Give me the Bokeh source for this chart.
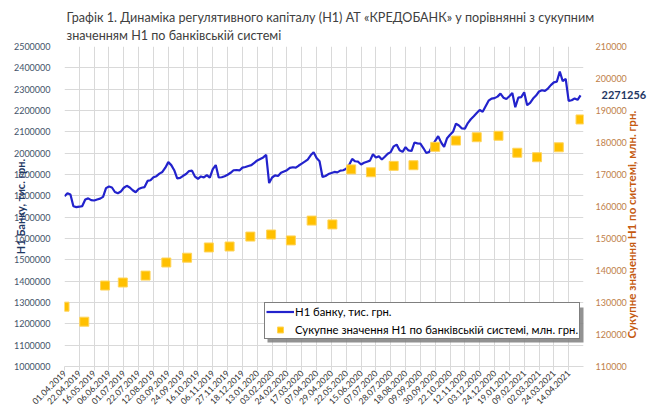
import numpy as np
from math import pi
from bokeh.plotting import figure
from bokeh.models import (Range1d, LinearAxis, FixedTicker, Legend, LegendItem,
                          NumeralTickFormatter, BoxAnnotation)
from bokeh.embed import file_html
from bokeh.resources import INLINE

# ---------------- data ----------------
START = "2019-04-01"
# bank holidays in Ukraine (non-business days of the series)
holidays = ["2019-04-29", "2019-05-01", "2019-05-09", "2019-06-17", "2019-06-28",
            "2019-08-26", "2019-10-14", "2019-12-25", "2020-01-01", "2020-01-07",
            "2020-03-09", "2020-04-20", "2020-05-01", "2020-05-11", "2020-06-08",
            "2020-06-29", "2020-08-24", "2020-10-14", "2020-12-25", "2021-01-01",
            "2021-01-07", "2021-03-08"]

tick_labels = ["01.04.2019", "22.04.2019", "16.05.2019", "06.06.2019", "01.07.2019",
               "22.07.2019", "12.08.2019", "03.09.2019", "24.09.2019", "16.10.2019",
               "06.11.2019", "27.11.2019", "18.12.2019", "13.01.2020", "03.02.2020",
               "24.02.2020", "17.03.2020", "07.04.2020", "29.04.2020", "22.05.2020",
               "15.06.2020", "07.07.2020", "28.07.2020", "18.08.2020", "09.09.2020",
               "30.09.2020", "22.10.2020", "12.11.2020", "03.12.2020", "24.12.2020",
               "19.01.2021", "09.02.2021", "02.03.2021", "24.03.2021", "14.04.2021"]

# H1 of the bank, thousand UAH, every 3rd business day from 01.04.2019
bank_step = 3
bank_h1 = [
    1798000, 1812000, 1806000, 1751000, 1747000, 1749000, 1752000, 1783000, 1788000, 1780000,
    1778000, 1783000, 1787000, 1795000, 1836000, 1844000, 1839000, 1818000, 1812000, 1820000,
    1838000, 1847000, 1839000, 1826000, 1817000, 1832000, 1838000, 1841000, 1870000, 1873000,
    1887000, 1892000, 1904000, 1912000, 1932000, 1958000, 1944000, 1920000, 1882000, 1884000,
    1894000, 1902000, 1916000, 1918000, 1890000, 1880000, 1891000, 1886000, 1897000, 1885000,
    1925000, 1944000, 1886000, 1887000, 1892000, 1899000, 1908000, 1920000, 1921000, 1919000,
    1932000, 1935000, 1940000, 1944000, 1955000, 1966000, 1973000, 1980000, 1992000, 1860000,
    1886000, 1896000, 1893000, 1908000, 1914000, 1920000, 1931000, 1934000, 1932000, 1942000,
    1951000, 1960000, 1970000, 1990000, 2004000, 1977000, 1962000, 1888000, 1893000, 1902000,
    1907000, 1912000, 1910000, 1918000, 1920000, 1927000, 1946000, 1973000, 1962000, 1960000,
    1947000, 1955000, 1960000, 1965000, 1995000, 1980000, 1985000, 1970000, 1983000, 1997000,
    2005000, 2032000, 2040000, 2014000, 2006000, 2028000, 2013000, 2010000, 2050000, 2046000,
    2045000, 2024000, 2001000, 2006000, 2035000, 2058000, 2080000, 2050000, 2030000, 2070000,
    2086000, 2100000, 2138000, 2130000, 2116000, 2115000, 2141000, 2159000, 2173000, 2188000,
    2202000, 2194000, 2220000, 2246000, 2256000, 2258000, 2265000, 2279000, 2260000, 2254000,
    2267000, 2282000, 2215000, 2260000, 2263000, 2285000, 2225000, 2236000, 2256000, 2270000,
    2289000, 2295000, 2292000, 2303000, 2319000, 2332000, 2335000, 2383000, 2338000, 2348000,
    2245000, 2248000, 2256000, 2250000, 2271256]

# aggregate H1 of the banking system, million UAH
system_dates = ["01.04.2019", "30.04.2019", "31.05.2019", "27.06.2019", "31.07.2019",
                "30.08.2019", "30.09.2019", "31.10.2019", "29.11.2019", "31.12.2019",
                "31.01.2020", "28.02.2020", "31.03.2020", "30.04.2020", "29.05.2020",
                "30.06.2020", "31.07.2020", "31.08.2020", "30.09.2020", "30.10.2020",
                "30.11.2020", "31.12.2020", "29.01.2021", "26.02.2021", "31.03.2021",
                "30.04.2021"]
system_h1 = [128700, 124000, 135300, 136250, 138400, 142500, 144000, 147200, 147500, 150600,
             151250, 149400, 155600, 154400, 171600, 170700, 172700, 172900, 178650, 180600,
             181650, 182100, 176800, 175400, 178500, 187200]

title_1 = "Графік 1. Динаміка регулятивного капіталу (Н1) АТ «КРЕДОБАНК»  у порівнянні з сукупним"
title_2 = "значенням Н1 по банківській системі"
left_title = "Н1 Банку, тис. грн."
right_title = "Сукупне  значення Н1 по системі, млн. грн."
legend_labels = ["Н1 банку, тис. грн.", "Сукупне значення Н1 по банківській системі, млн. грн."]


def day_index(d):
    dd, mm, yy = d.split(".")
    return int(np.busday_count(START, f"{yy}-{mm}-{dd}", holidays=holidays))


tick_x = [day_index(d) for d in tick_labels]
sys_x = [day_index(d) for d in system_dates]
bank_x = [int(i) * bank_step for i in range(len(bank_h1))]
x_end = tick_x[-1] + (tick_x[1] - tick_x[0])
Y_MIN, Y_MAX = 1000000, 2500000

# ---------------- figure ----------------
FONT = "Lato"
GRID = "#D9D9D9"
W, H = 649, 412
FL, FT, FW, FH = 64, 46, 532, 320
p = figure(width=W, height=H, output_backend="svg", toolbar_location=None,
           x_range=Range1d(0, x_end), y_range=Range1d(Y_MIN, Y_MAX),
           min_border_left=FL, min_border_right=W - FL - FW,
           min_border_top=FT, min_border_bottom=H - FT - FH)
p.outline_line_color = None

p.title.text = title_1 + "\n" + title_2
p.title.text_font = FONT
p.title.text_font_size = "12.6px"
p.title.text_font_style = "normal"
p.title.text_color = "#404040"
p.title.align = "left"
p.title.offset = 2
p.title.standoff = 8
p.title.text_line_height = 1.15

p.extra_y_ranges = {"sys": Range1d(110000, 210000)}

p.xgrid.ticker = FixedTicker(ticks=tick_x + [x_end])
p.xgrid.grid_line_color = GRID
p.ygrid.ticker = FixedTicker(ticks=list(range(Y_MIN, Y_MAX + 1, 100000)))
p.ygrid.grid_line_color = GRID

xa = p.xaxis[0]
xa.ticker = FixedTicker(ticks=tick_x)
xa.major_label_overrides = {int(x): lab for x, lab in zip(tick_x, tick_labels)}
xa.major_label_orientation = pi / 4
xa.major_label_text_font = FONT
xa.major_label_text_font_size = "8.6px"
xa.major_label_text_color = "#333333"
xa.major_label_standoff = 1
xa.axis_line_color = GRID
xa.major_tick_line_color = GRID
xa.major_tick_out = 4
xa.major_tick_in = 0
xa.minor_tick_line_color = None

ya = p.yaxis[0]
ya.ticker = FixedTicker(ticks=list(range(Y_MIN, Y_MAX + 1, 100000)))
ya.formatter = NumeralTickFormatter(format="0")
ya.major_label_text_font = FONT
ya.major_label_text_font_size = "9px"
ya.major_label_text_color = "#44546A"
ya.axis_line_color = None
ya.major_tick_line_color = None
ya.minor_tick_line_color = None
ya.major_label_standoff = 8
ya.axis_label = left_title
ya.axis_label_text_font = FONT
ya.axis_label_text_font_size = "11px"
ya.axis_label_text_font_style = "bold"
ya.axis_label_text_color = "#1F3864"
ya.axis_label_standoff = -16

ra = LinearAxis(y_range_name="sys", ticker=FixedTicker(ticks=list(range(110000, 210001, 10000))),
                formatter=NumeralTickFormatter(format="0"))
ra.major_label_text_font = FONT
ra.major_label_text_font_size = "9px"
ra.major_label_text_color = "#C0804A"
ra.axis_line_color = None
ra.major_tick_line_color = None
ra.minor_tick_line_color = None
ra.major_label_standoff = 6
ra.axis_label_text_font = FONT
ra.axis_label_text_font_size = "11.5px"
ra.axis_label_text_font_style = "bold"
ra.axis_label_text_color = "#C55A11"
ra.axis_label_standoff = 2
ra.axis_label_orientation = pi / 2
if "axis_label_align" in ra.properties():
    # the rotated label grows upward from its anchor: anchor it at the bottom of the axis,
    # lifted by a few non-breaking spaces
    ra.axis_label_align = "start"
    ra.axis_label = "\u00a0" * 10 + right_title
else:
    ra.axis_label = right_title
p.add_layout(ra, "right")

# last value of the bank series, shown next to the line end
va = LinearAxis(ticker=FixedTicker(ticks=[bank_h1[-1]]), formatter=NumeralTickFormatter(format="0"))
va.major_label_text_font = FONT
va.major_label_text_font_size = "11px"
va.major_label_text_font_style = "bold"
va.major_label_text_color = "#1F3864"
va.axis_line_color = None
va.major_tick_line_color = None
va.minor_tick_line_color = None
va.major_label_standoff = -52
p.add_layout(va, "right")

line_r = p.line(bank_x, bank_h1, line_color="#2222CC", line_width=2.2)
sq_r = p.scatter(sys_x, system_h1, marker="square", size=9, fill_color="#FFC000",
                 line_color="#FFD45A", line_width=1, y_range_name="sys")

# legend shadow (screen units relative to the plot frame)
p.add_layout(BoxAnnotation(left=203, right=536, bottom=24, top=59,
                           left_units="screen", right_units="screen",
                           bottom_units="screen", top_units="screen",
                           fill_color="#7F7F7F", fill_alpha=0.85, line_color=None))

legend = Legend(items=[LegendItem(label=legend_labels[0], renderers=[line_r]),
                       LegendItem(label=legend_labels[1], renderers=[sq_r])],
                location=(200, 27), orientation="vertical",
                border_line_color="black", border_line_width=1,
                background_fill_color="white", background_fill_alpha=1,
                label_text_font=FONT, label_text_font_size="11.3px", label_text_color="black",
                glyph_width=28, glyph_height=15, label_height=15, spacing=3, padding=1,
                margin=0, label_standoff=1)
p.add_layout(legend, "center")

open("out.html", "w").write(file_html(p, INLINE))
